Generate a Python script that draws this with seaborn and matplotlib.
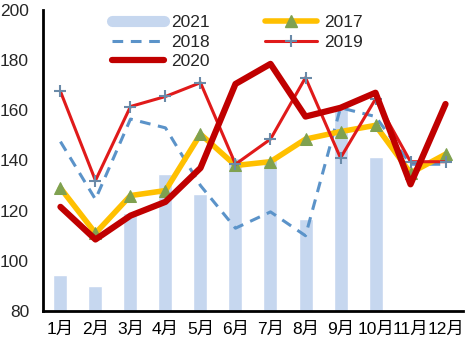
import numpy as np
import pandas as pd
import matplotlib
matplotlib.use("Agg")
import matplotlib.pyplot as plt
import seaborn as sns
from matplotlib.lines import Line2D

months = ["1月", "2月", "3月", "4月", "5月", "6月", "7月", "8月", "9月", "10月", "11月", "12月"]
v2021 = [94.5, 90, 119, 134.5, 126.5, 141, 140.5, 116.5, 161, 141.5, np.nan, np.nan]
v2017 = [129, 111, 126, 128, 150.5, 138, 139.5, 148.5, 151.5, 154, 135, 142.5]
v2018 = [147.5, 124.5, 156.5, 153, 130, 113, 119.5, 110, 161, 157.5, 138.5, 138.5]
v2019 = [167.5, 132, 161.5, 165.5, 171, 138.5, 148.5, 173, 141, 164.5, 139.5, 139.5]
v2020 = [121.5, 108.5, 118, 123.5, 137, 170.5, 178.5, 157.5, 161, 167, 130.5, 162.5]
yticks = [80, 100, 120, 140, 160, 180, 200]

sns.set_style("white")
plt.rcParams["font.family"] = ["Liberation Sans", "Noto Sans CJK SC"]

fig = plt.figure(figsize=(4.72, 3.55), dpi=100)
ax = fig.add_axes([0.091, 0.124, 0.890, 0.848])

df = pd.DataFrame({"month": months, "v2021": v2021, "v2017": v2017, "v2018": v2018,
                   "v2019": v2019, "v2020": v2020})
df["x"] = np.arange(len(months))

sns.barplot(data=df, x="month", y="v2021", color="#c6d7ef", saturation=1, width=0.4, ax=ax)

sns.lineplot(data=df, x="x", y="v2018", color="#5b93c9", lw=2.2, ax=ax, sort=False,
             linestyle=(0, (3.5, 2.5)))
sns.lineplot(data=df, x="x", y="v2017", color="#ffc000", lw=4, ax=ax, sort=False,
             marker="^", markersize=8, markerfacecolor="#7fa150", markeredgecolor="#7fa150")
sns.lineplot(data=df, x="x", y="v2019", color="#e01a1a", lw=2.2, ax=ax, sort=False,
             marker="+", markersize=8, markeredgewidth=1.5, markeredgecolor="#6a8aa8")
sns.lineplot(data=df, x="x", y="v2020", color="#c00000", lw=4.5, ax=ax, sort=False)

ax.set_xlim(-0.5, 11.5)
ax.set_ylim(80, 200)
ax.set_yticks(yticks)
ax.set_xticks(range(len(months)))
ax.set_xticklabels(months)
ax.set_xticks(np.arange(-0.5, 12, 1), minor=True)
ax.tick_params(axis="x", which="major", length=0, labelsize=12.5, pad=8, colors="black")
ax.tick_params(axis="x", which="minor", length=5, width=1.8, direction="in", color="black")
ax.tick_params(axis="y", which="major", length=4, width=1.8, direction="in", labelsize=12.5,
               pad=10, color="black")
ax.set_xlabel("")
ax.set_ylabel("")
for s in ["top", "right"]:
    ax.spines[s].set_visible(False)
for s in ["left", "bottom"]:
    ax.spines[s].set_color("black")
    ax.spines[s].set_linewidth(2)
ax.grid(False)

handles = [
    Line2D([0], [0], color="#c6d7ef", lw=8),
    Line2D([0], [0], color="#5b93c9", lw=2.2, linestyle=(0, (3.5, 2.5))),
    Line2D([0], [0], color="#c00000", lw=4.5),
    Line2D([0], [0], color="#ffc000", lw=4, marker="^", markersize=8,
           markerfacecolor="#7fa150", markeredgecolor="#7fa150"),
    Line2D([0], [0], color="#e01a1a", lw=2.2, marker="+", markersize=8,
           markeredgewidth=1.5, markeredgecolor="#6a8aa8"),
]
labels = ["2021", "2018", "2020", "2017", "2019"]
ax.legend(handles, labels, ncol=2, loc="upper left", bbox_to_anchor=(0.127, 1.035),
          frameon=False, fontsize=12.5, handlelength=3.0, columnspacing=3.2,
          labelspacing=0.25, handletextpad=0.4)

fig.savefig("out.png", dpi=100)
